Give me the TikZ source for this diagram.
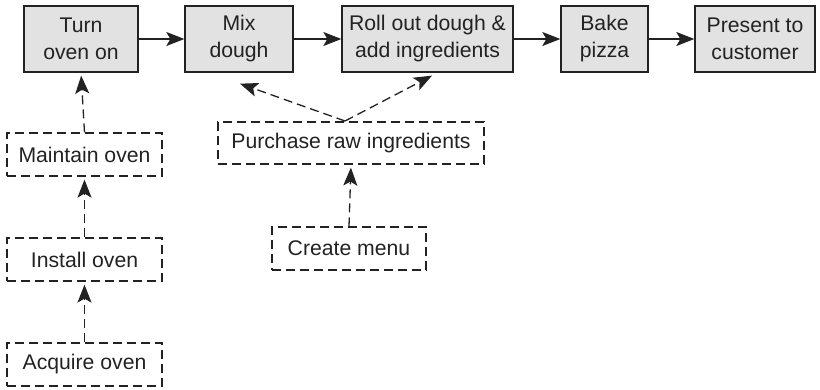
\documentclass[tikz,border=0pt]{standalone}
\usepackage{fontspec}
\setmainfont{Liberation Sans}
\usetikzlibrary{arrows.meta,calc}
\definecolor{ink}{HTML}{222222}
\definecolor{boxfill}{HTML}{E2E2E2}
\begin{document}
\begin{tikzpicture}[x=1pt,y=-1pt,
  every node/.style={text=ink, font=\fontsize{21.2}{27}\selectfont, align=center, inner sep=0pt},
  stepbox/.style={draw=ink, fill=boxfill, line width=1.3pt, minimum height=66pt},
  supportbox/.style={draw=ink, line width=1.2pt, dash pattern=on 9pt off 5pt, minimum height=43pt},
  flow/.style={draw=ink, line width=1.3pt, -{Stealth[length=18pt,width=14pt,inset=4pt]}},
  feed/.style={flow, dash pattern=on 9pt off 5pt, shorten >=3pt}]
\useasboundingbox (0,0) rectangle (820,389);

% main sequence of steps
\node[stepbox, minimum width=114pt] (turn)    at (81,39)    {Turn\\oven on};
\node[stepbox, minimum width=108pt] (mix)     at (239,39)   {Mix\\dough};
\node[stepbox, minimum width=171pt] (roll)    at (427.5,39) {Roll out dough \&\\add ingredients};
\node[stepbox, minimum width=87pt]  (bake)    at (604.5,39) {Bake\\pizza};
\node[stepbox, minimum width=120pt] (present) at (755,39)   {Present to\\customer};

% supporting activities
\node[supportbox, minimum width=155pt] (maintain) at (84.5,154.5) {Maintain oven};
\node[supportbox, minimum width=155pt] (install)  at (84.5,259.5) {Install oven};
\node[supportbox, minimum width=155pt] (acquire)  at (84.5,364.5) {Acquire oven};
\node[supportbox, minimum width=266pt, minimum height=42pt] (purchase) at (351,143) {Purchase raw ingredients};
\node[supportbox, minimum width=154pt] (menu)     at (349,248.5) {Create menu};

% flow between the steps
\draw[flow] (turn) -- (mix);
\draw[flow] (mix) -- (roll);
\draw[flow] (roll) -- (bake);
\draw[flow] (bake) -- (present);

% dependencies
\draw[feed] (acquire.north) -- (install.south);
\draw[feed] (install.north) -- (maintain.south);
\draw[feed] (maintain.north) -- (turn.south);
\draw[feed] (menu.north) -- (purchase.south);
\coordinate (fork) at (345,121);
\draw[feed, shorten >=0pt] (fork) -- ($(mix.south)+(1,11)$);
\draw[feed, shorten >=0pt] (fork) -- ($(roll.south)+(4.5,3)$);
\end{tikzpicture}
\end{document}
